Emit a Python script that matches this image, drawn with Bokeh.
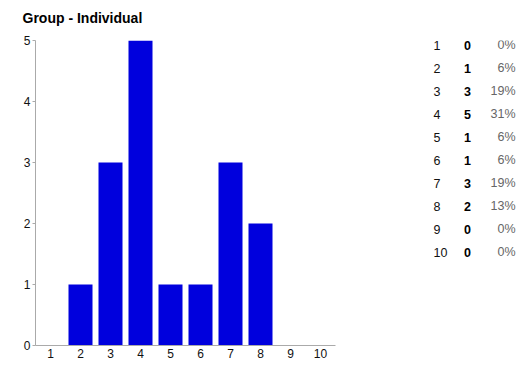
from bokeh.plotting import figure
from bokeh.layouts import row, column
from bokeh.models import Range1d, FactorRange, FixedTicker, ColumnDataSource
from bokeh.core.properties import value
from bokeh.embed import file_html
from bokeh.resources import INLINE

title = "Group - Individual"
categories = ["1", "2", "3", "4", "5", "6", "7", "8", "9", "10"]
counts = [0, 1, 3, 5, 1, 1, 3, 2, 0, 0]
percents = ["0%", "6%", "19%", "31%", "6%", "6%", "19%", "13%", "0%", "0%"]

FONT = "Liberation Sans"
BAR = "#0000DD"

# title strip (coordinates in page pixels)
p0 = figure(width=520, height=30, x_range=Range1d(0, 520), y_range=Range1d(30, 0),
            output_backend="svg", toolbar_location=None, min_border=0)
p0.axis.visible = False
p0.grid.visible = False
p0.outline_line_color = None
p0.text(x=[22], y=[17], text=[title], text_font=value(FONT), text_font_size="14px",
        text_font_style="bold", text_color="#000000", text_baseline="middle", text_align="left")

p1 = figure(width=368, height=335, x_range=FactorRange(*categories, range_padding=0),
            y_range=Range1d(0, 5), output_backend="svg", toolbar_location=None,
            min_border_left=35, min_border_right=33, min_border_top=10, min_border_bottom=20)
p1.vbar(x=categories, top=counts, width=0.8, color=BAR, line_color=None)
p1.outline_line_color = None
p1.xgrid.visible = False
p1.ygrid.visible = False

for ax in (p1.xaxis[0], p1.yaxis[0]):
    ax.axis_line_color = "#aaaaaa"
    ax.major_tick_line_color = "#aaaaaa"
    ax.minor_tick_line_color = None
    ax.major_label_text_font = FONT
    ax.major_label_text_font_size = "12px"
    ax.major_label_text_color = "#111111"
    ax.major_tick_in = 0
p1.yaxis.ticker = FixedTicker(ticks=[0, 1, 2, 3, 4, 5])
p1.yaxis.major_tick_out = 3
p1.yaxis.major_label_standoff = 2
p1.xaxis.major_tick_out = 0
p1.xaxis.major_label_standoff = 3

# table (coordinates in page pixels)
p2 = figure(width=152, height=335, x_range=Range1d(368, 520), y_range=Range1d(345, 40),
            output_backend="svg", toolbar_location=None,
            min_border_left=0, min_border_right=0, min_border_top=10, min_border_bottom=20)
p2.axis.visible = False
p2.grid.visible = False
p2.outline_line_color = None
ys = [44.5 + 23 * i for i in range(len(categories))]
src = ColumnDataSource(dict(cat=categories, cnt=[str(c) for c in counts], pct=percents,
                            y=ys, xl=[433] * 10, xc=[467] * 10, xp=[515] * 10))
p2.text(x="xl", y="y", text="cat", source=src, text_font=value(FONT), text_font_size="12.5px",
        text_color="#111111", text_baseline="middle", text_align="left")
p2.text(x="xc", y="y", text="cnt", source=src, text_font=value(FONT), text_font_size="12.5px",
        text_font_style="bold", text_color="#000000", text_baseline="middle", text_align="center")
p2.text(x="xp", y="y", text="pct", source=src, text_font=value(FONT), text_font_size="12.5px",
        text_color="#666666", text_baseline="middle", text_align="right")

layout = column(p0, row(p1, p2))
open("out.html", "w").write(file_html(layout, INLINE))
